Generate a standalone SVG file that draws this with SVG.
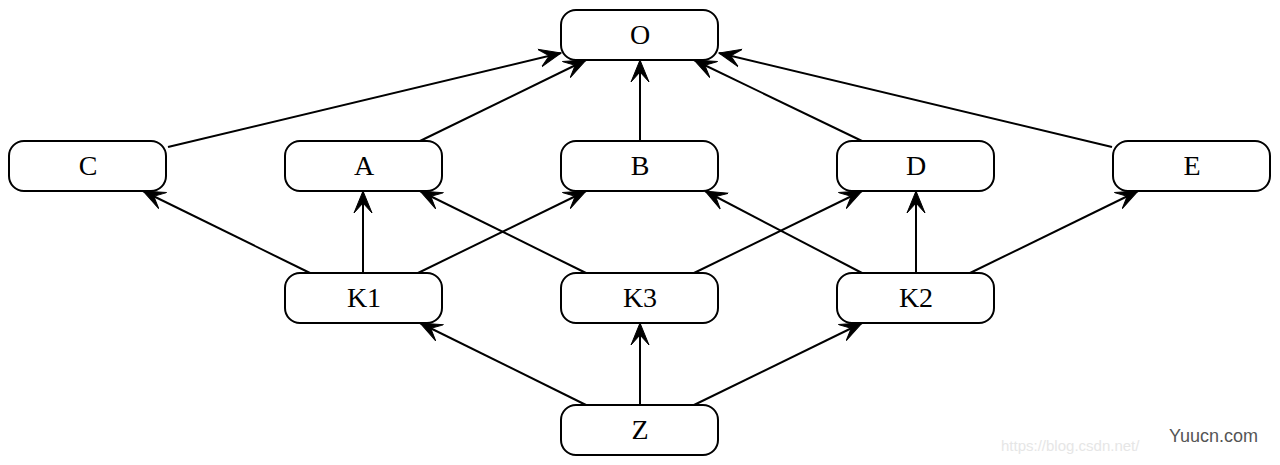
<svg xmlns="http://www.w3.org/2000/svg" width="1280" height="465" viewBox="0 0 1280 465">
<style>
.node rect{fill:#fff;stroke:#000;stroke-width:2}
.node text{font-family:"Liberation Serif","Times New Roman",serif;font-size:28px;text-anchor:middle;fill:#000}
#edges line{stroke:#000;stroke-width:2;marker-end:url(#vee)}
</style>
<defs>
<marker id="vee" markerUnits="userSpaceOnUse" markerWidth="26" markerHeight="22" viewBox="-22 -11 26 22" refX="0" refY="0" orient="auto">
<path d="M0,0 L-22,-9 L-12,0 L-22,9 Z" fill="#000" stroke="#000" stroke-width="1"/>
</marker>
</defs>
<rect width="1280" height="465" fill="#fff"/>
<g id="edges">
<line x1="168" y1="147" x2="561" y2="53"/>
<line x1="420" y1="141" x2="586" y2="60"/>
<line x1="640" y1="141" x2="640" y2="60"/>
<line x1="862" y1="141" x2="694" y2="60"/>
<line x1="1112" y1="147" x2="719" y2="53"/>
<line x1="310" y1="273" x2="143" y2="191"/>
<line x1="363" y1="273" x2="363" y2="191"/>
<line x1="418" y1="273" x2="586" y2="191"/>
<line x1="586" y1="273" x2="420" y2="191"/>
<line x1="694" y1="273" x2="862" y2="191"/>
<line x1="862" y1="273" x2="705" y2="191"/>
<line x1="916" y1="273" x2="916" y2="191"/>
<line x1="970" y1="273" x2="1138" y2="191"/>
<line x1="586" y1="405" x2="420" y2="323"/>
<line x1="640" y1="405" x2="640" y2="323"/>
<line x1="694" y1="405" x2="862" y2="323"/>
</g>
<g id="node-O" class="node"><rect x="561" y="10" width="157" height="50" rx="15"/><text x="640" y="44">O</text></g>
<g id="node-C" class="node"><rect x="9" y="141" width="157" height="50" rx="15"/><text x="88" y="175">C</text></g>
<g id="node-A" class="node"><rect x="285" y="141" width="157" height="50" rx="15"/><text x="364" y="175">A</text></g>
<g id="node-B" class="node"><rect x="561" y="141" width="157" height="50" rx="15"/><text x="640" y="175">B</text></g>
<g id="node-D" class="node"><rect x="837" y="141" width="157" height="50" rx="15"/><text x="916" y="175">D</text></g>
<g id="node-E" class="node"><rect x="1113" y="141" width="157" height="50" rx="15"/><text x="1192" y="175">E</text></g>
<g id="node-K1" class="node"><rect x="285" y="273" width="157" height="50" rx="15"/><text x="364" y="307">K1</text></g>
<g id="node-K3" class="node"><rect x="561" y="273" width="157" height="50" rx="15"/><text x="640" y="307">K3</text></g>
<g id="node-K2" class="node"><rect x="837" y="273" width="157" height="50" rx="15"/><text x="916" y="307">K2</text></g>
<g id="node-Z" class="node"><rect x="561" y="405" width="157" height="50" rx="15"/><text x="640" y="439">Z</text></g>
<g id="watermark">
<text x="1001" y="451" font-family="Liberation Sans, Arial, sans-serif" font-size="15" fill="#e6e6e6">https://blog.csdn.net/</text>
<rect x="1148" y="420" width="124" height="32" fill="#fff" opacity="0.85"/>
<text x="1169" y="442" font-family="Liberation Sans, Arial, sans-serif" font-size="18" fill="#555">Yuucn.com</text>
</g>
</svg>
